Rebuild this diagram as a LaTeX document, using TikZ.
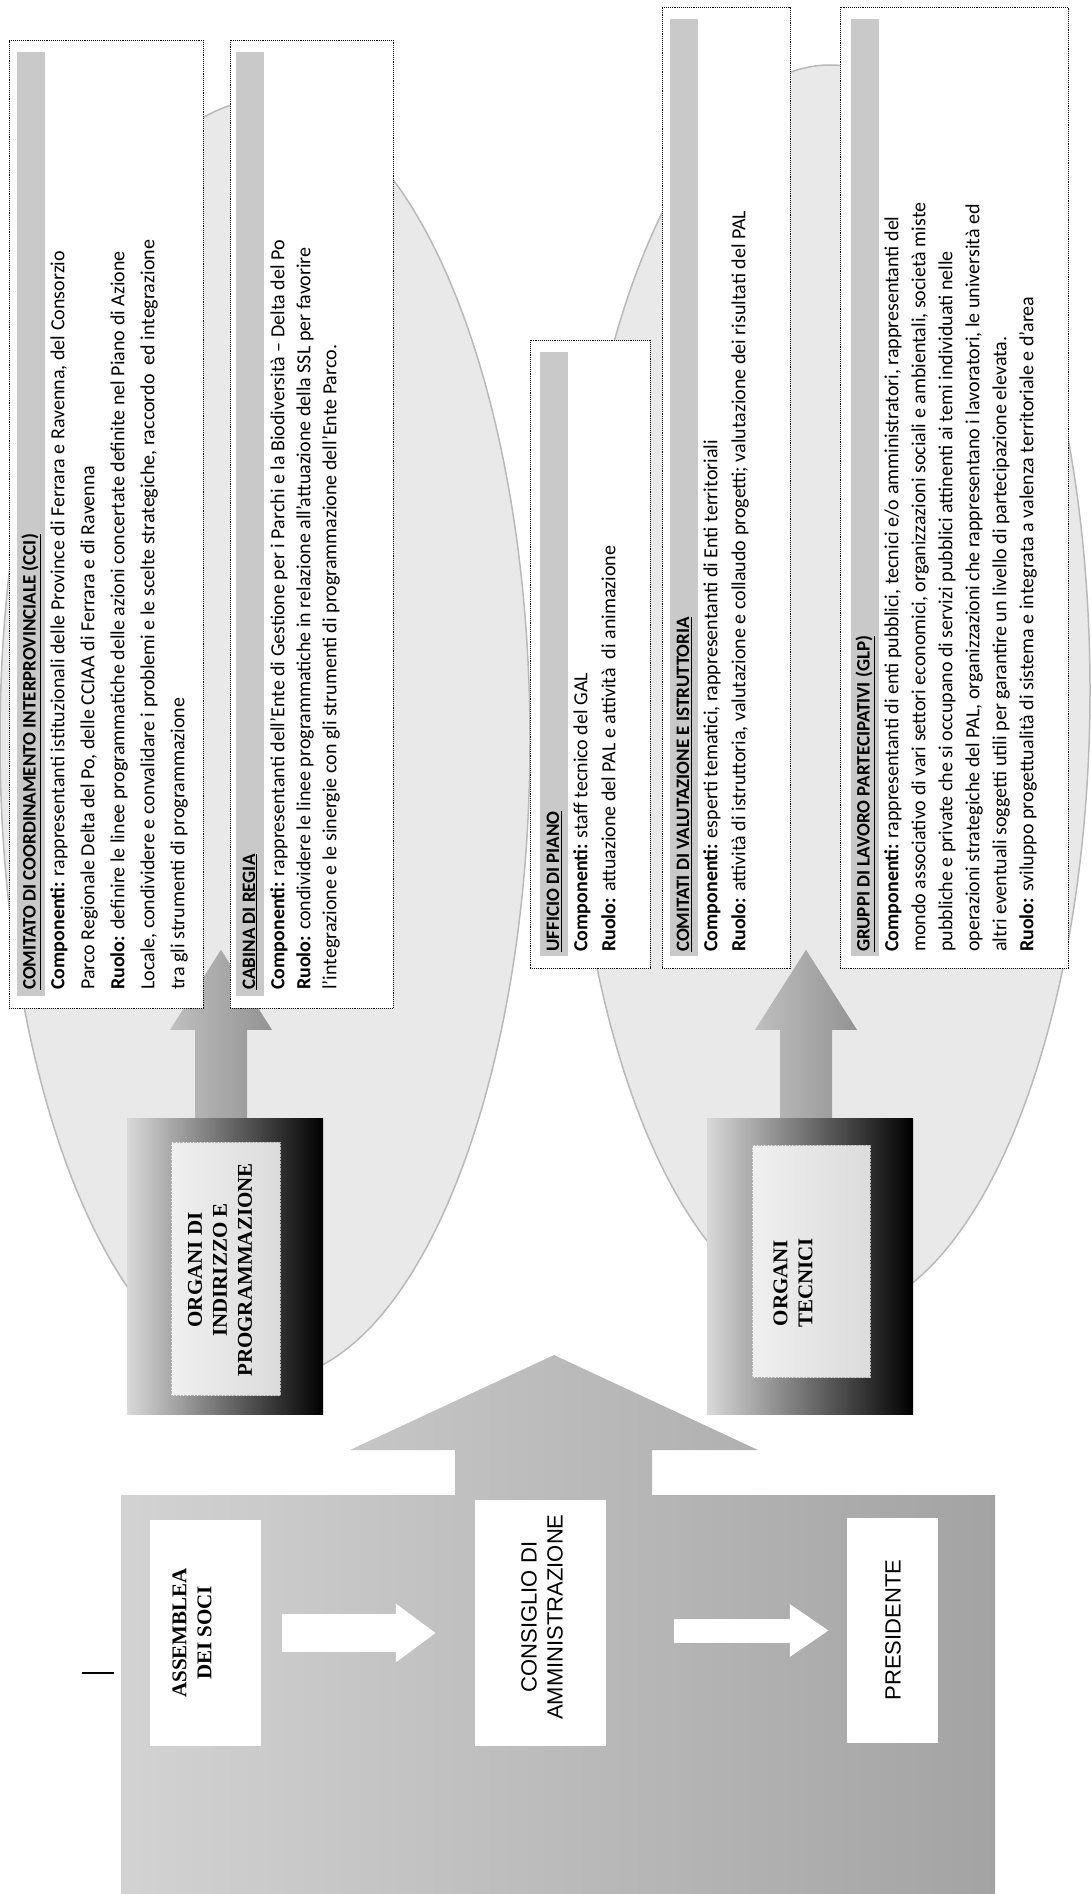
\documentclass[tikz,border=0pt]{standalone}
\usepackage{fontspec}
\setmainfont{Carlito}
\newfontfamily\capsfont{Liberation Serif}
\newfontfamily\plainfont{Liberation Sans}
\usetikzlibrary{arrows.meta,calc}

\begin{document}
\begin{tikzpicture}[x=1pt, y=-1pt,
    panel/.style={draw, densely dotted, line width=0.9pt, fill=white, inner sep=0pt},
    titlebar/.style={fill=gray!42, inner sep=0pt},
    titletext/.style={rotate=90, anchor=west, inner sep=0pt, font=\fontsize{19}{22}\selectfont\bfseries},
    bodytext/.style={rotate=90, anchor=north west, align=left, inner sep=0pt},
    organbox/.style={left color=gray!30, right color=black, inner sep=0pt},
    organpanel/.style={left color=gray!12, right color=gray!28, draw=gray!60, densely dotted, inner sep=0pt},
    organlabel/.style={rotate=90, align=center, inner sep=0pt, font=\capsfont\bfseries\fontsize{21}{25}\selectfont},
    whitebox/.style={fill=white, inner sep=0pt},
    boxlabel/.style={rotate=90, align=center, inner sep=0pt},
    upshaft/.style={left color=gray!50, right color=gray!85},
    flow/.style={white, -{Triangle[width=56pt, length=40pt]}},
    halo/.style={fill=gray!17, draw=gray!55, line width=1.5pt}
]
    % Page
    \fill[white] (0,0) rectangle (1091,1894);
    \useasboundingbox (0,0) rectangle (1091,1894);

    % Background ellipses
    \filldraw[halo] (265,740) ellipse [x radius=265pt, y radius=640pt];
    \filldraw[halo] (830,690) ellipse [x radius=260pt, y radius=625pt];

    % Organi
    \node[organbox, minimum width=196pt, minimum height=296pt] (ind) at (225,1266) {};
    \node[organpanel, minimum width=109pt, minimum height=253pt] (ind-in) at (225.5,1268.5) {};
    \node[organlabel] (ind-t) at (220,1270) {ORGANI DI\\INDIRIZZO E\\PROGRAMMAZIONE};
    \node[organbox, minimum width=206pt, minimum height=296pt] (tec) at (810,1266) {};
    \node[organpanel, minimum width=118pt, minimum height=232pt] (tec-in) at (811,1261) {};
    \node[organlabel] (tec-t) at (793,1283) {ORGANI\\TECNICI};

    % Arrows up to the panels
    \shade[upshaft] ([xshift=-30pt]ind.north) -- ++(0,-88) -- ++(-25,0) -- ++(51,-80)
        -- ++(51,80) -- ++(-25,0) -- ++(0,88) -- cycle;
    \shade[upshaft] ([xshift=-30pt]tec.north) -- ++(0,-88) -- ++(-25,0) -- ++(51,-80)
        -- ++(51,80) -- ++(-25,0) -- ++(0,88) -- cycle;

    % CCI
    \node[panel, minimum width=194pt, minimum height=968pt] (cci) at (106,524) {};
    \node[titlebar, minimum width=28pt, minimum height=944pt] (cci-bar) at (31,524) {};
    \node[titletext] (cci-title) at (31,990) {\underline{COMITATO DI COORDINAMENTO INTERPROVINCIALE (CCI)}};
    \node[bodytext, font=\fontsize{20}{30}\selectfont] (cci-text) at (50,990)
        {\textbf{Componenti:} rappresentanti istituzionali delle Province di Ferrara e Ravenna, del Consorzio\\
         Parco Regionale Delta del Po, delle CCIAA di Ferrara e di Ravenna\\
         \textbf{Ruolo:} definire le linee programmatiche delle azioni concertate definite nel Piano di Azione\\
         Locale, condividere e convalidare i problemi e le scelte strategiche, raccordo\ \ ed integrazione\\
         tra gli strumenti di programmazione};

    % Cabina di regia
    \node[panel, minimum width=163pt, minimum height=968pt] (cab) at (311.5,524) {};
    \node[titlebar, minimum width=28pt, minimum height=944pt] (cab-bar) at (250,524) {};
    \node[titletext] (cab-title) at (250,990) {\underline{CABINA DI REGIA}};
    \node[bodytext, font=\fontsize{20}{26}\selectfont] (cab-text) at (270,990)
        {\textbf{Componenti:} rappresentanti dell'Ente di Gestione per i Parchi e la Biodiversità -- Delta del Po\\
         \textbf{Ruolo:} condividere le linee programmatiche in relazione all'attuazione della SSL per favorire\\
         l'integrazione e le sinergie con gli strumenti di programmazione dell'Ente Parco.};

    % Ufficio di piano
    \node[panel, minimum width=120pt, minimum height=628pt] (uff) at (590,654) {};
    \node[titlebar, minimum width=28pt, minimum height=604pt] (uff-bar) at (554,654) {};
    \node[titletext] (uff-title) at (554,952) {\underline{UFFICIO DI PIANO}};
    \node[bodytext, font=\fontsize{20}{28}\selectfont] (uff-text) at (573,952)
        {\textbf{Componenti:} staff tecnico del GAL\\
         \textbf{Ruolo:} attuazione del PAL e attività\ \ di animazione};

    % Comitati di valutazione
    \node[panel, minimum width=128pt, minimum height=961pt] (cvi) at (726,487.5) {};
    \node[titlebar, minimum width=28pt, minimum height=937pt] (cvi-bar) at (684,487.5) {};
    \node[titletext] (cvi-title) at (684,952) {\underline{COMITATI DI VALUTAZIONE E ISTRUTTORIA}};
    \node[bodytext, font=\fontsize{20}{28}\selectfont] (cvi-text) at (703,952)
        {\textbf{Componenti:} esperti tematici, rappresentanti di Enti territoriali\\
         \textbf{Ruolo:} attività di istruttoria, valutazione e collaudo progetti; valutazione dei risultati del PAL};

    % Gruppi di lavoro
    \node[panel, minimum width=228pt, minimum height=961pt] (glp) at (954,487.5) {};
    \node[titlebar, minimum width=28pt, minimum height=937pt] (glp-bar) at (865,487.5) {};
    \node[titletext] (glp-title) at (865,952) {\underline{GRUPPI DI LAVORO PARTECIPATIVI (GLP)}};
    \node[bodytext, font=\fontsize{20}{27}\selectfont] (glp-text) at (884,952)
        {\textbf{Componenti:} rappresentanti di enti pubblici, tecnici e/o amministratori, rappresentanti del\\
         mondo associativo di vari settori economici, organizzazioni sociali e ambientali, società miste\\
         pubbliche e private che si occupano di servizi pubblici attinenti ai temi individuati nelle\\
         operazioni strategiche del PAL, organizzazioni che rappresentano i lavoratori, le università ed\\
         altri eventuali soggetti utili per garantire un livello di partecipazione elevata.\\
         \textbf{Ruolo:} sviluppo progettualità di sistema e integrata a valenza territoriale e d'area};

    % Governing block with its arrow
    \shade[left color=gray!35, right color=gray!72] (121,1894) -- (121,1495) -- (455,1495) -- (455,1450)
        -- (350,1450) -- (554,1355) -- (758,1450) -- (652,1450) -- (652,1495) -- (995,1495)
        -- (995,1894) -- cycle;

    % Assemblea, consiglio, presidente
    \node[whitebox, minimum width=111pt, minimum height=226pt] (asm) at (205.5,1633) {};
    \node[boxlabel, font=\capsfont\bfseries\fontsize{21}{25}\selectfont] (asm-t) at (192,1633) {ASSEMBLEA\\DEI SOCI};
    \node[whitebox, minimum width=131pt, minimum height=246pt] (cons) at (540.5,1623) {};
    \node[boxlabel, font=\plainfont\fontsize{22}{26}\selectfont] (cons-t) at (542,1617) {CONSIGLIO DI\\AMMINISTRAZIONE};
    \node[whitebox, minimum width=91pt, minimum height=225pt] (pres) at (892.5,1630.5) {};
    \node[boxlabel, font=\plainfont\fontsize{22}{26}\selectfont] (pres-t) at (893,1630) {PRESIDENTE};

    % White arrows
    \draw[flow, line width=38pt, shorten <=21pt, shorten >=39pt] (asm.east) -- (asm.east -| cons.west);
    \draw[white, line width=24pt, -{Triangle[width=50pt, length=39pt]}, shorten <=68pt, shorten >=18pt]
        (pres.west -| cons.east) -- (pres.west);

    % Stray mark
    \draw[line width=2.5pt] (82,1673) -- (114,1673);
\end{tikzpicture}
\end{document}
